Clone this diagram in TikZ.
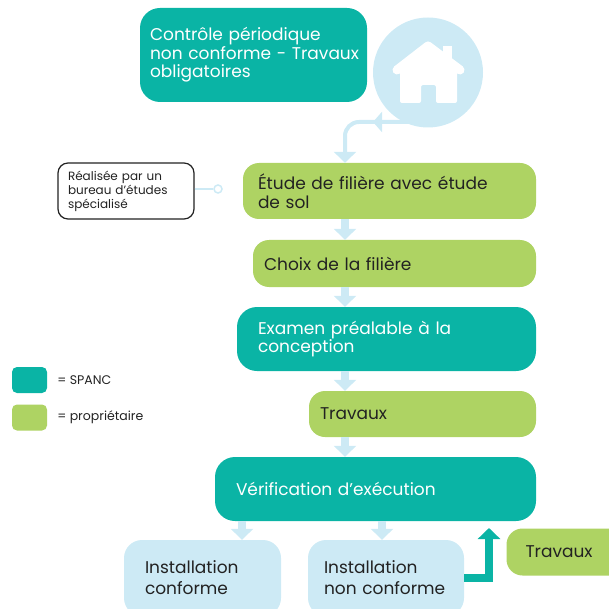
\documentclass[tikz,border=0pt]{standalone}
\usepackage{fontspec}
\setmainfont{Poppins}
\usepackage{tikz}
\usetikzlibrary{arrows.meta,positioning}

\definecolor{spanc}{HTML}{0AB4A5}
\definecolor{proprio}{HTML}{AED363}
\definecolor{ciel}{HTML}{CDEAF5}
\definecolor{encre}{HTML}{222222}

\begin{document}
\begin{tikzpicture}[x=1pt,y=-1pt,
        box/.style={rounded corners=16pt,align=left,inner ysep=0pt,font=\fontsize{17}{18.5}\selectfont},
        spancbox/.style={box,rounded corners=20pt,fill=spanc,text=white},
        propbox/.style={box,fill=proprio,text=encre},
        finbox/.style={box,rounded corners=18pt,fill=ciel,text=encre,font=\fontsize{17}{21}\selectfont},
        flow/.style={ciel,line width=8pt,-{Triangle[width=22pt,length=11pt]}},
        link/.style={ciel,line width=4pt},
        legende/.style={rounded corners=5pt,minimum width=35pt,minimum height=26pt,inner sep=0pt},
        petit/.style={inner sep=0pt,text=encre,font=\fontsize{12.5}{14}\selectfont}]
        \useasboundingbox (0,0) rectangle (609,609);
        \clip (0,0) rectangle (609,609);
        % colonne principale
        \node[spancbox,text width=207,inner xsep=10,minimum height=94] (controle) at (253.5,55)
            {\mbox{Contrôle périodique}\\\mbox{non conforme - Travaux}\\obligatoires};
        \node[propbox,text width=263,inner xsep=15,minimum height=56] (etude) at (389.5,191)
            {\mbox{Étude de filière avec étude}\\de sol};
        \node[propbox,text width=261,inner xsep=11,minimum height=47] (choix) at (394.5,263.5)
            {Choix de la filière};
        \node[spancbox,text width=257,inner xsep=21,minimum height=64] (examen) at (386.5,339)
            {\mbox{Examen préalable à la}\\conception};
        \node[propbox,text width=205,inner xsep=11,minimum height=46] (travaux) at (422.5,414)
            {Travaux};
        \node[spancbox,text width=279,inner xsep=21,minimum height=64] (verif) at (375.5,489)
            {\mbox{Vérification d’exécution}};
        \node[finbox,text width=115,inner xsep=21,minimum height=76] (conforme) at (202.5,578)
            {Installation\\conforme};
        \node[finbox,text width=124,inner xsep=16,minimum height=76] (nonconf) at (386,578)
            {Installation\\\mbox{non conforme}};
        \node[propbox,text width=89,inner xsep=19,minimum height=47] (travaux2) at (570,552)
            {Travaux};
        % maison
        \node[circle,fill=ciel,minimum size=110pt,inner sep=0pt] (maison) at (428,72.5) {};
        \fill[white] (443,46) rectangle (452,62);
        \fill[white,rounded corners=2pt] (400,66) -- (428,46) -- (457,66) -- (457,103) -- (436,103)
            -- (436,85) -- (421,85) -- (421,103) -- (400,103) -- cycle;
        \draw[white,line width=9pt,line cap=round,line join=round] (397,70) -- (428,46) -- (460,70);
        % bureau d'etudes
        \node[draw=encre,line width=1.2pt,rounded corners=10pt,fill=white,text width=116,inner xsep=10,
            minimum height=56,align=left,text=encre,font=\fontsize{12}{14}\selectfont] (bureau) at (126,191)
            {\mbox{Réalisée par un}\\\mbox{bureau d’études}\\spécialisé};
        \node[circle,draw=ciel,line width=1.5pt,minimum size=8pt,inner sep=0pt] (pin) at (218,189) {};
        \draw[ciel,line width=1.5pt] (bureau.east |- pin) -- (pin);
        % legende
        \node[legende,fill=spanc] (lspanc) at (29.5,380) {};
        \node[petit,right=10pt of lspanc] {= SPANC};
        \node[legende,fill=proprio] (lproprio) at (29.5,417.5) {};
        \node[petit,right=10pt of lproprio] {= propriétaire};
        % fleches
        \coordinate (col) at (345,0);
        \coordinate (c1) at (242,0);
        \coordinate (c2) at (382,0);
        \coordinate (ret) at (412,122);
        \coordinate (retour) at (489,528);
        \draw[link,-{Triangle[width=20pt,length=9pt]}] (ret) -- (373,122);
        \draw[link,rounded corners=14pt,-{Triangle[width=22pt,length=11pt]}] (ret) -| (etude.north -| col);
        \draw[flow] (etude.south -| col) -- (choix.north -| col);
        \draw[flow] (choix.south -| col) -- (examen.north -| col);
        \draw[flow] (examen.south -| col) -- (travaux.north -| col);
        \draw[flow] (travaux.south -| col) -- (verif.north -| col);
        \draw[flow] (verif.south -| c1) -- (conforme.north -| c1);
        \draw[flow] (verif.south -| c2) -- (nonconf.north -| c2);
        \draw[spanc,line width=8.5pt,-{Triangle[width=22pt,length=11pt]}] (nonconf.east) -| (retour);
    \end{tikzpicture}
\end{document}
